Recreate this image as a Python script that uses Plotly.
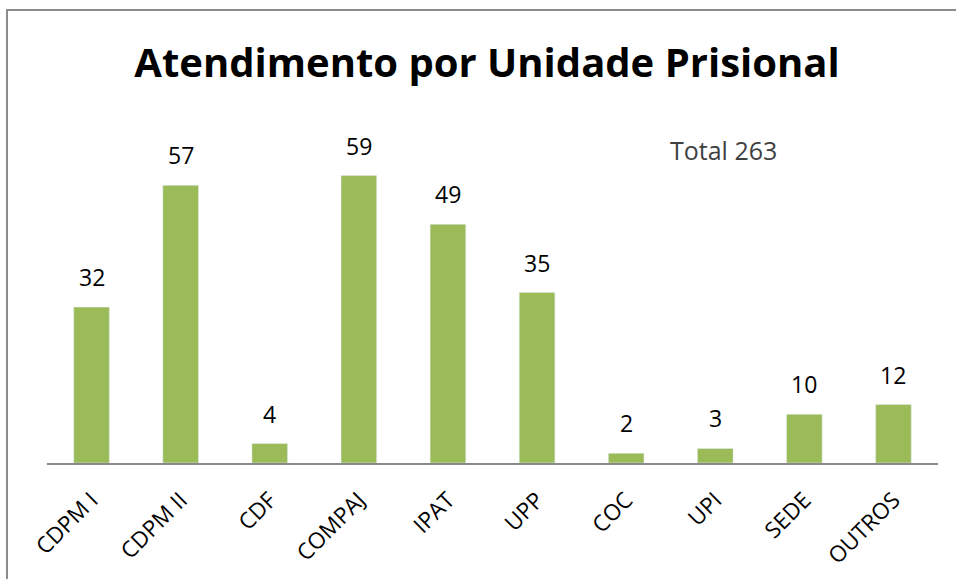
import plotly.graph_objects as go

categories = ["CDPM I", "CDPM II", "CDF", "COMPAJ", "IPAT", "UPP", "COC", "UPI", "SEDE", "OUTROS"]
values = [32, 57, 4, 59, 49, 35, 2, 3, 10, 12]
total_label = "Total 263"
title_text = "Atendimento por Unidade Prisional"

W, H = 956, 579
ml, mr, mt, mb = 47, 18, 122, 116
pw = W - ml - mr
ph = H - mt - mb

fig = go.Figure(go.Bar(
    x=categories, y=values, marker_color="#9BBB59",
    cliponaxis=False, hoverinfo="skip",
))

def px_x(p):
    return (p - ml) / pw

def px_y(p):
    return (H - mb - p) / ph

label_annots = [dict(x=c, y=v, xref="x", yref="y", text=str(v), showarrow=False,
                     yanchor="bottom", xanchor="center", yshift=12,
                     font=dict(family="Open Sans", size=23, color="#000000"))
                for c, v in zip(categories, values)]

fig.update_layout(
    width=W, height=H,
    margin=dict(l=ml, r=mr, t=mt, b=mb, autoexpand=False),
    paper_bgcolor="white", plot_bgcolor="white",
    bargap=0.6,
    showlegend=False,
    title=dict(text="<b>" + title_text + "</b>", x=487 / W, xanchor="center",
               y=1 - 63 / H, yanchor="middle",
               font=dict(family="Open Sans", size=40, color="#000000")),
    xaxis=dict(tickangle=-45, showline=True, linecolor="#898989", linewidth=2,
               ticks="", ticklabelstandoff=13,
               tickfont=dict(family="Open Sans", size=22.5, color="#000000"),
               showgrid=False, automargin=False),
    yaxis=dict(range=[0, 70], visible=False, showgrid=False),
    shapes=[dict(type="rect", xref="paper", yref="paper",
                 x0=px_x(7), x1=px_x(W + 20), y0=px_y(10), y1=px_y(H + 20),
                 line=dict(color="#8c8c8c", width=2), fillcolor="rgba(0,0,0,0)")],
    annotations=label_annots + [dict(text=total_label, xref="paper", yref="paper",
                      x=px_x(723), y=px_y(150), xanchor="center", yanchor="middle",
                      showarrow=False,
                      font=dict(family="Open Sans", size=25, color="#404040"))],
)

fig.write_html("out.html", config={"displayModeBar": False},
               post_script="document.body.style.margin='0';document.body.style.overflow='hidden';")
